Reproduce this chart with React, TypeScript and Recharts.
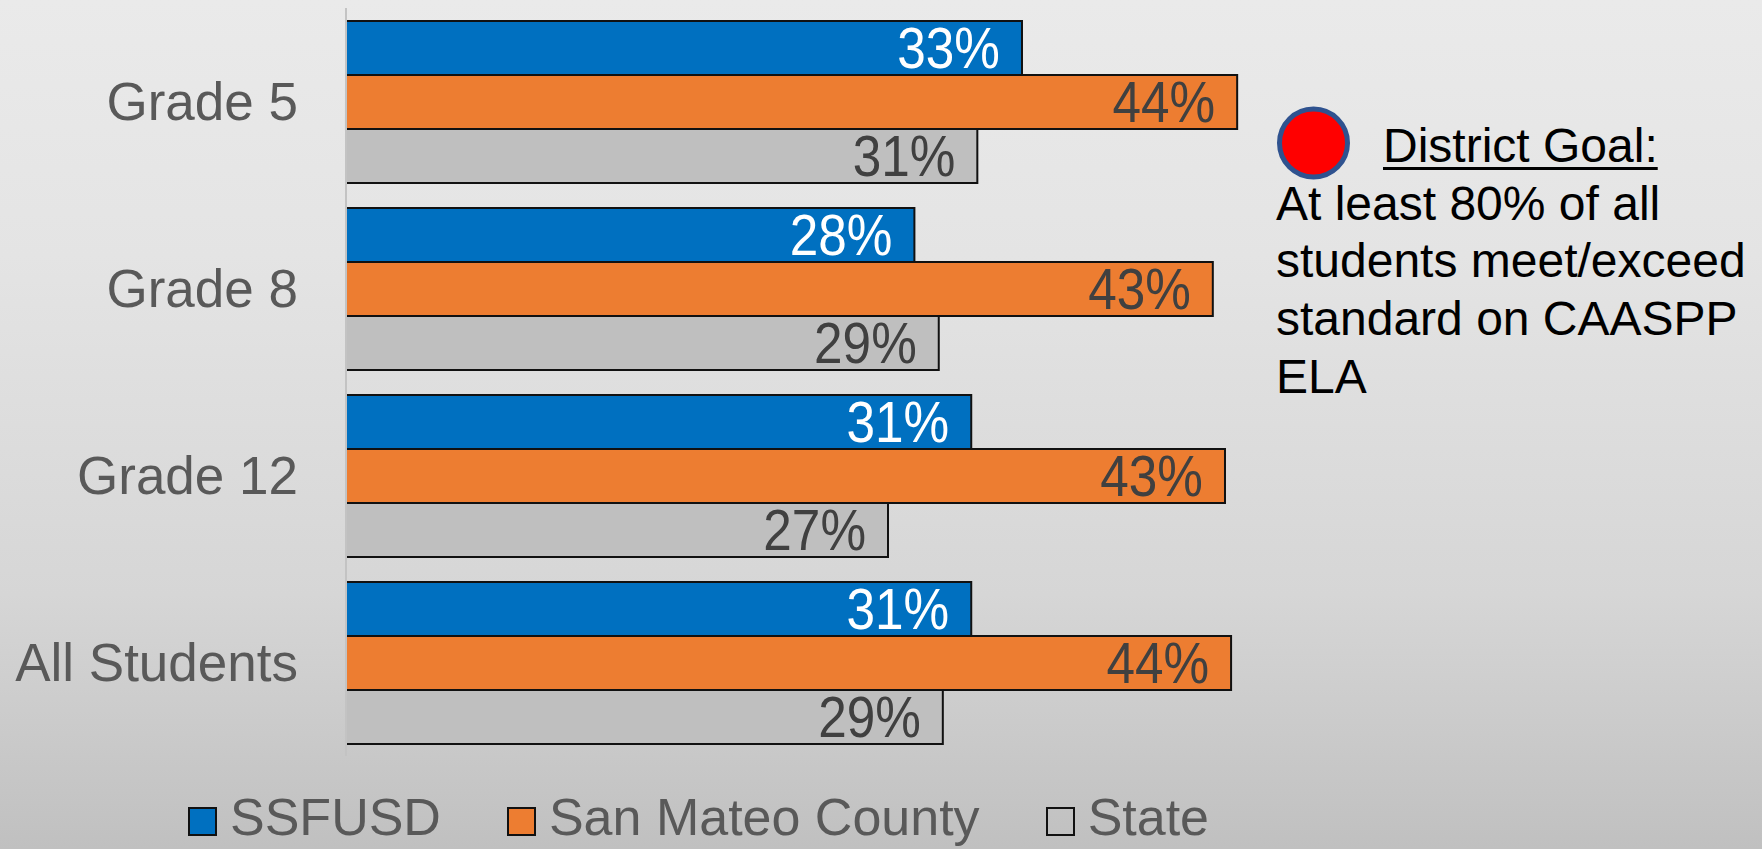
import React from 'react';
import { BarChart, Bar, XAxis, YAxis, LabelList, Legend } from 'recharts';

const categories = ['Grade 5', 'Grade 8', 'Grade 12', 'All Students'];
const ssfusd = [33.3, 28.0, 30.8, 30.8];
const sanMateo = [43.9, 42.7, 43.3, 43.6];
const state = [31.1, 29.2, 26.7, 29.4];

const seriesNames = ['SSFUSD', 'San Mateo County', 'State'];
const seriesKeys = ['ssfusd', 'sanMateo', 'state'];
const seriesColors = ['#0070c0', '#ed7d31', '#bfbfbf'];
const labelColors = ['#ffffff', '#404040', '#404040'];

const goalTitle = 'District Goal:';
const goalLines = ['At least 80% of all', 'students meet/exceed', 'standard on CAASPP', 'ELA'];

const data = categories.map((c, i) => ({
  name: c,
  ssfusd: ssfusd[i],
  sanMateo: sanMateo[i],
  state: state[i],
}));

const FONT = '"Liberation Sans", Arial, sans-serif';

const makeBarLabel = (color: string) => (props: any) => {
  const { x, y, width, height, value } = props;
  const tx = Number(x) + Number(width) - 22;
  const ty = Number(y) + Number(height) / 2;
  return (
    <text
      x={0}
      y={0}
      transform={`translate(${tx},${ty}) scale(0.9,1)`}
      textAnchor="end"
      dominantBaseline="central"
      fill={color}
      fontSize={57}
      fontFamily={FONT}
    >
      {`${Math.round(Number(value))}%`}
    </text>
  );
};

const renderLegend = () => (
  <div style={{ position: 'relative', width: 1762, height: 93, fontFamily: FONT }}>
    <div style={{ position: 'absolute', left: 188, top: 38, display: 'flex', alignItems: 'flex-start' }}>
      {seriesNames.map((n, i) => (
        <div key={n} style={{ display: 'flex', alignItems: 'flex-start', marginRight: 66 }}>
          <div
            style={{
              width: 25,
              height: 25,
              marginTop: 13,
              background: i === 2 ? 'transparent' : seriesColors[i],
              border: '2px solid #111',
              marginRight: 13,
            }}
          />
          <div style={{ fontSize: 52, lineHeight: '46px', height: 46, color: '#595959', whiteSpace: 'nowrap' }}>{n}</div>
        </div>
      ))}
    </div>
  </div>
);

export default function App() {
  return (
    <div
      style={{
        position: 'absolute',
        left: 0,
        top: 0,
        width: 1762,
        height: 849,
        background: 'linear-gradient(to bottom, #eaeaea 0%, #e4e4e4 30%, #d6d6d6 70%, #c0c0c0 100%)',
        fontFamily: FONT,
        overflow: 'hidden',
      }}
    >
      <BarChart
        width={1762}
        height={849}
        data={data}
        layout="vertical"
        margin={{ top: 8, right: 401, bottom: 0, left: 0 }}
        barCategoryGap={13}
        barGap={0}
      >
        <XAxis type="number" domain={[0, 50]} hide />
        <YAxis
          type="category"
          dataKey="name"
          width={346}
          tickLine={false}
          tickSize={0}
          tickMargin={48}
          axisLine={{ stroke: '#c3c3c3', strokeWidth: 2 }}
          tick={{ fill: '#595959', fontSize: 53, fontFamily: FONT }}
        />
        <Legend verticalAlign="bottom" content={renderLegend} wrapperStyle={{ left: 0, bottom: 0, width: 1762, height: 93 }} />
        {seriesKeys.map((k, i) => (
          <Bar
            key={k}
            dataKey={k}
            name={seriesNames[i]}
            fill={seriesColors[i]}
            stroke="#111"
            strokeWidth={2}
            isAnimationActive={false}
          >
            <LabelList dataKey={k} content={makeBarLabel(labelColors[i])} />
          </Bar>
        ))}
      </BarChart>
      <svg style={{ position: 'absolute', left: 1270, top: 100 }} width={90} height={90}>
        <circle cx={43.5} cy={43} r={34} fill="#ff0000" stroke="#2f528f" strokeWidth={5} />
      </svg>
      <div
        style={{
          position: 'absolute',
          left: 1276,
          top: 117,
          fontSize: 48,
          lineHeight: '57.7px',
          color: '#000',
          whiteSpace: 'nowrap',
        }}
      >
        <div style={{ paddingLeft: 107 }}>
          <span style={{ textDecoration: 'underline', textDecorationThickness: 3, textUnderlineOffset: 5 }}>{goalTitle}</span>
        </div>
        {goalLines.map((l) => (
          <div key={l}>{l}</div>
        ))}
      </div>
    </div>
  );
}
